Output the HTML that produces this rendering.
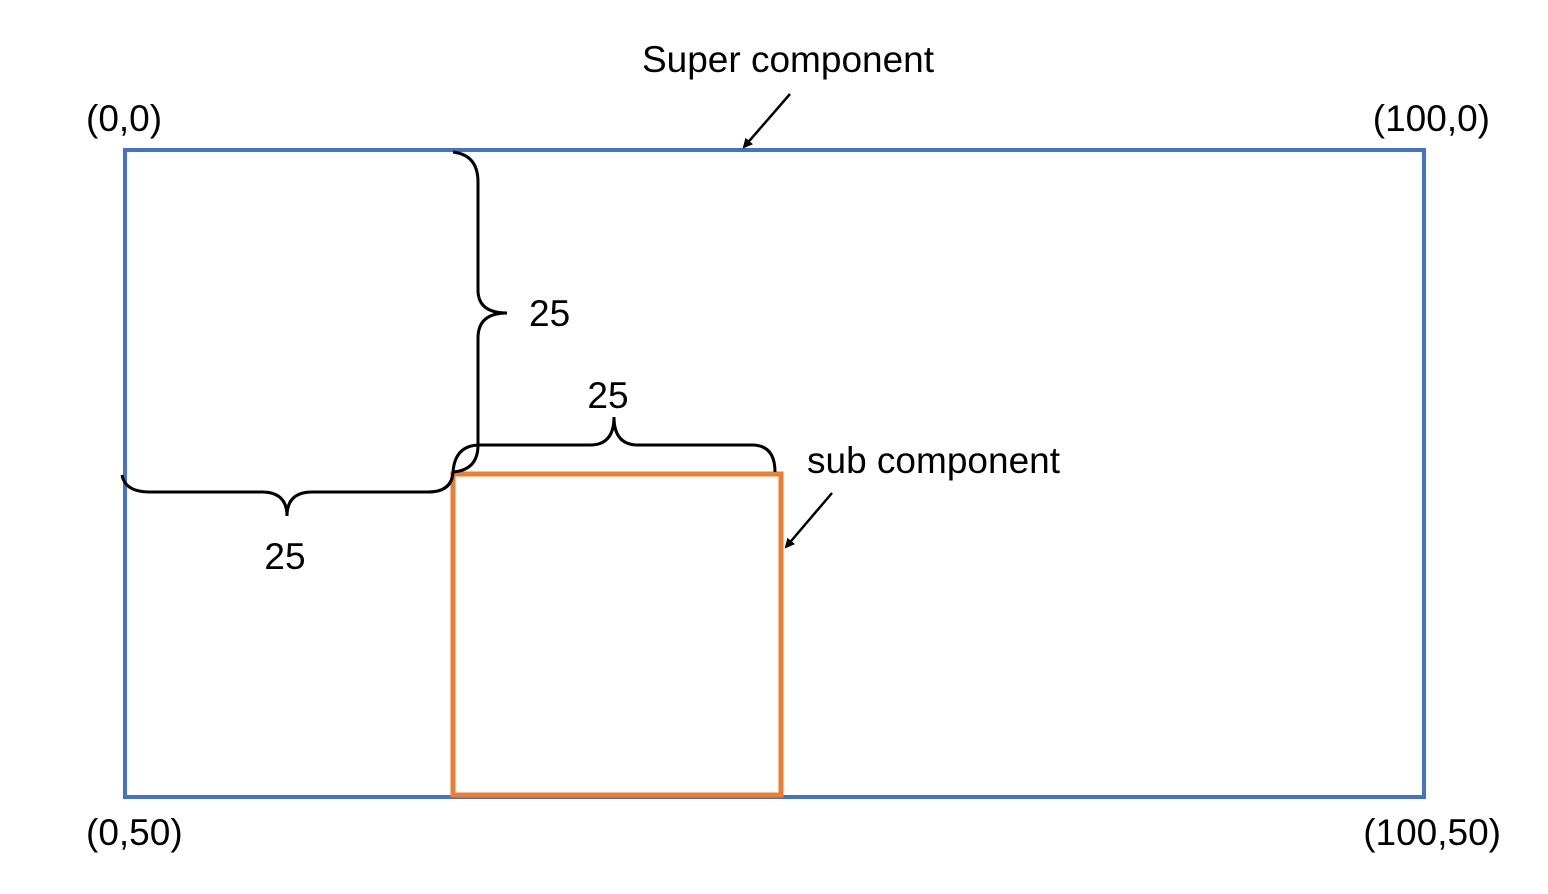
<!DOCTYPE html>
<html><head><meta charset="utf-8"><style>
html,body{margin:0;padding:0;background:#fff;width:1548px;height:894px;overflow:hidden}
svg text{font-family:"Liberation Sans",sans-serif;font-size:37px;fill:#000}
</style></head><body>
<svg width="1548" height="894" viewBox="0 0 1548 894">
<defs><marker id="ah" markerWidth="10" markerHeight="10" refX="8" refY="5" orient="auto" markerUnits="userSpaceOnUse"><path d="M0,0 L10,5 L0,10 z" fill="#000"/></marker></defs>
<rect x="125" y="150" width="1299" height="647" fill="none" stroke="#4472C4" stroke-width="4"/>
<rect x="453" y="474" width="328" height="321" fill="none" stroke="#ED7D31" stroke-width="5"/>
<path d="M453,152 Q478,155 478,182 L478,290 Q478,313 507,313 Q478,313 478,338 L478,445 Q478,470 453,472" fill="none" stroke="#000" stroke-width="3"/>
<path d="M453,472 Q455,445 480,445 L590,445 Q614,445 614,417 Q614,445 638,445 L752,445 Q775,445 775,472" fill="none" stroke="#000" stroke-width="3"/>
<path d="M122,475 Q125,492 150,492 L262,492 Q287,492 287,516 Q287,492 312,492 L428,492 Q452,492 453,472" fill="none" stroke="#000" stroke-width="3"/>
<line x1="790" y1="94" x2="744" y2="147" stroke="#000" stroke-width="2.5" marker-end="url(#ah)"/>
<line x1="832" y1="493" x2="786" y2="547" stroke="#000" stroke-width="2.5" marker-end="url(#ah)"/>
<text x="788" y="72" text-anchor="middle">Super component</text>
<text x="807" y="473">sub component</text>
<text x="86" y="131">(0,0)</text>
<text x="1490" y="131" text-anchor="end">(100,0)</text>
<text x="86" y="845">(0,50)</text>
<text x="1501" y="845" text-anchor="end">(100,50)</text>
<text x="529" y="326">25</text>
<text x="608" y="408" text-anchor="middle">25</text>
<text x="285" y="569" text-anchor="middle">25</text>
</svg>
</body></html>
